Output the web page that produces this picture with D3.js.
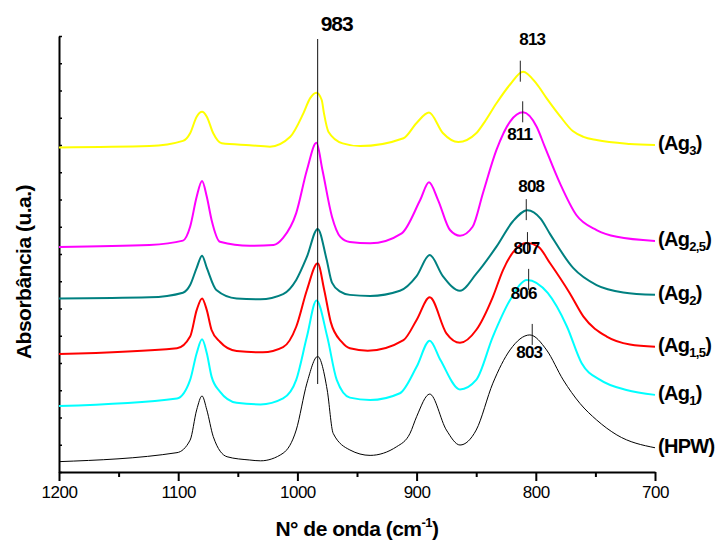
<!DOCTYPE html>
<html>
<head>
<meta charset="utf-8">
<script src="https://cdn.jsdelivr.net/npm/d3@7"></script>
<style>
  body { margin: 0; background: #fff; }
  text { font-family: "Liberation Sans", Arial, sans-serif; }
</style>
</head>
<body>
<script>
// spectra: [wavenumber cm-1, absorbance a.u.]
var hpw = [[1200,0.38],[1101,0.71],[1090,1.17],[1084.5,2.28],[1080,2.79],[1076,2.28],[1070.6,1.30],[1059,0.56],
  [1040,0.44],[1031,0.41],[1012,0.69],[1001,1.54],[992,3.26],[983,4.24],[975,3.01],[970,1.42],[956,0.81],
  [939,0.61],[916.7,0.93],[905.5,1.42],[900,2.03],[889,2.86],[875,1.54],[863.6,0.99],[850,1.54],[836,3.26],
  [821.6,4.48],[805,5.03],[791,4.48],[777,3.38],[763,2.52],[749,1.91],[732,1.36],[700,0.89]];

var ag1 = [[1200,2.42],[1101,2.70],[1090,3.38],[1084.5,4.36],[1080,4.87],[1076,4.36],[1072,3.50],[1065,2.95],
  [1051,2.54],[1031,2.48],[1012,2.70],[1001,3.38],[992,4.97],[984,6.29],[975,4.97],[967,3.38],[956,2.73],
  [939,2.64],[914,2.89],[900,3.86],[889,4.82],[880,4.11],[863.6,3.03],[850,3.38],[836,4.97],[821.6,6.31],
  [807.4,7.05],[790,6.57],[774,5.35],[761.5,3.99],[746,3.38],[724,3.01],[700,2.83]];

var ag15 = [[1200,4.33],[1101,4.54],[1090,4.97],[1084.5,5.94],[1080,6.37],[1076,5.94],[1072,5.21],[1065,4.78],
  [1051,4.44],[1029,4.39],[1012,4.58],[1001,5.33],[992,6.68],[983,7.66],[977.5,6.68],[972,5.50],[963,4.78],
  [956,4.54],[941,4.45],[911,4.84],[900,5.58],[889,6.41],[875,5.09],[863.6,4.74],[850,5.21],[836,6.43],
  [827.5,7.41],[819,8.07],[807.4,8.40],[798,8.27],[788,7.66],[771.5,6.56],[760,5.70],[740.5,4.97],[721,4.68],[700,4.60]];

var ag2 = [[1200,6.37],[1124,6.41],[1096,6.58],[1090,6.86],[1084.5,7.49],[1080,7.94],[1076,7.49],[1068,6.68],
  [1051,6.37],[1031,6.34],[1012,6.53],[1001,7.05],[992,7.90],[983,8.92],[975.5,7.80],[971,6.95],[964,6.62],
  [956,6.50],[939,6.46],[914,6.65],[900,7.19],[889,7.96],[878,7.19],[863.6,6.65],[850,7.27],[833,8.27],
  [819,9.21],[807,9.61],[796,9.30],[788,8.73],[768.5,7.48],[749,6.86],[726.6,6.59],[700,6.50]];

var ag25 = [[1200,8.26],[1124,8.33],[1096,8.49],[1090,9.00],[1084.5,10.10],[1080,10.68],[1076,10.10],[1072,9.25],
  [1065,8.45],[1040,8.30],[1020,8.33],[1012,8.59],[1001,9.50],[992,11.08],[984,12.08],[979,11.08],[971,9.37],
  [964,8.63],[956,8.44],[939,8.39],[912.5,8.76],[897,9.98],[889.6,10.63],[882,9.98],[872,8.88],[863.6,8.67],
  [853,9.00],[844.3,10.24],[833,11.82],[821.6,12.86],[810.7,13.20],[799.3,12.67],[792.5,11.94],[779.7,10.59],
  [766,9.43],[749,8.88],[732,8.63],[700,8.48]];

var ag3 = [[1200,11.91],[1124,11.96],[1096,12.15],[1090,12.43],[1084.5,13.04],[1080,13.22],[1076,13.04],[1070.6,12.43],
  [1063.5,12.06],[1040,11.99],[1023,11.94],[1006,12.30],[995,13.16],[989.4,13.71],[984,13.92],[979.6,13.65],
  [977.7,13.16],[974,12.49],[962,12.06],[947.5,11.96],[911,12.25],[900,12.81],[889.6,13.19],[878,12.44],
  [865,12.11],[850,12.43],[843,12.84],[833,13.53],[821.6,14.22],[810.7,14.69],[799.3,14.24],[791,13.72],
  [779.7,13.06],[769,12.51],[760,12.30],[749,12.18],[721,12.04],[700,12.00]];

var seriesData = [ag3, ag25, ag2, ag15, ag1, hpw];
var seriesNames = ["3", "2,5", "2", "1,5", "1", null];
var seriesColors = ["#ffff00", "#ff00ff", "#008080", "#ff0000", "#00ffff", "#000000"];
var peakLabels = ["813", "811", "808", "807", "806", "803"];
var mainPeak = 983;
var xMajor = [1200, 1100, 1000, 900, 800, 700];
var xMinor = [1150, 1050, 950, 850, 750];

var width = 725, height = 544;

var svg = d3.select("body").append("svg")
    .attr("width", width)
    .attr("height", height);

var x = d3.scaleLinear().domain([1200, 700]).range([59, 655]);
var y = d3.scaleLinear().domain([0, 16]).range([472, 36]);

// axes
var xAxis = svg.append("g")
    .attr("transform", "translate(0,472)")
    .call(d3.axisBottom(x).tickValues(xMajor).tickSize(9).tickSizeOuter(0).tickPadding(5).tickFormat(d3.format("d")));
xAxis.select(".domain").attr("stroke-width", 2);
xAxis.selectAll(".tick line").attr("stroke-width", 2);
xAxis.selectAll(".tick text")
    .attr("font-size", 17)
    .attr("font-family", "Liberation Sans, Arial, sans-serif")
    .attr("letter-spacing", "-0.5px")
    .attr("fill", "#000");

var xMinorAxis = svg.append("g")
    .attr("transform", "translate(0,472)")
    .call(d3.axisBottom(x).tickValues(xMinor).tickSize(5).tickSizeOuter(0).tickFormat(""));
xMinorAxis.select(".domain").remove();
xMinorAxis.selectAll(".tick line").attr("stroke-width", 2);

var yAxis = svg.append("g")
    .attr("transform", "translate(59,0)")
    .call(d3.axisRight(y).tickValues(d3.range(0, 17)).tickSize(3).tickSizeOuter(0).tickFormat(""));
yAxis.select(".domain").attr("stroke-width", 2);
yAxis.selectAll(".tick line").attr("stroke-width", 1.5);

// curves
var line = d3.line()
    .x(function(d) { return x(d[0]); })
    .y(function(d) { return y(d[1]); })
    .curve(d3.curveMonotoneX);

svg.selectAll("path.spectrum")
    .data(seriesData)
    .enter()
    .append("path")
    .attr("class", "spectrum")
    .attr("fill", "none")
    .attr("stroke", function(d, i) { return seriesColors[i]; })
    .attr("stroke-width", function(d, i) { return i == 5 ? 1 : 2; })
    .attr("d", line);

// 983 marker
svg.append("line")
    .attr("x1", x(mainPeak)).attr("x2", x(mainPeak))
    .attr("y1", 39).attr("y2", 384)
    .attr("stroke", "#111")
    .attr("stroke-width", 1);
svg.append("text")
    .attr("x", x(mainPeak) + 3)
    .attr("y", 31)
    .attr("font-size", 21)
    .attr("font-weight", "bold")
    .attr("letter-spacing", "-1px")
    .text(mainPeak);

// peak ticks and labels near 810
var labelDx = [12, -3, 5, -1, -5, -3];
var labelDy = [-27, 28, -18, 11, 19, 23];
seriesData.forEach(function(s, i) {
  var top = d3.max(s.filter(function(d) { return d[0] > 780 && d[0] < 840; }), function(d) { return d[1]; });
  var px = x(+peakLabels[i]);
  var py = y(top);
  svg.append("line")
      .attr("x1", px).attr("x2", px)
      .attr("y1", py - 11).attr("y2", py + 10)
      .attr("stroke", "#222")
      .attr("stroke-width", 1);
  svg.append("text")
      .attr("x", px + labelDx[i])
      .attr("y", py + labelDy[i])
      .attr("text-anchor", "middle")
      .attr("font-size", 17)
      .attr("font-weight", "bold")
      .attr("letter-spacing", "-0.8px")
      .text(peakLabels[i]);
});

// series labels at right end
seriesData.forEach(function(s, i) {
  var last = s[s.length - 1];
  var t = svg.append("text")
      .attr("x", x(last[0]) + 3)
      .attr("y", y(last[1]) + 5)
      .attr("font-size", 20)
      .attr("font-weight", "bold")
      .attr("letter-spacing", "-0.7px");
  if (seriesNames[i] == null) {
    t.text("(HPW)");
  } else {
    t.append("tspan").text("(Ag");
    t.append("tspan").attr("font-size", 13).attr("dy", 5).text(seriesNames[i]);
    t.append("tspan").attr("dy", -5).text(")");
  }
});

// axis titles
var xt = svg.append("text")
    .attr("x", 357)
    .attr("y", 536)
    .attr("text-anchor", "middle")
    .attr("font-size", 21)
    .attr("font-weight", "bold")
    .attr("letter-spacing", "-0.5px");
xt.append("tspan").text("N° de onda (cm");
xt.append("tspan").attr("font-size", 13).attr("dy", -9).text("-1");
xt.append("tspan").attr("dy", 9).text(")");

svg.append("text")
    .attr("transform", "translate(31,272) rotate(-90)")
    .attr("text-anchor", "middle")
    .attr("font-size", 21)
    .attr("font-weight", "bold")
    .attr("letter-spacing", "-0.5px")
    .text("Absorbância (u.a.)");
</script>
</body>
</html>
